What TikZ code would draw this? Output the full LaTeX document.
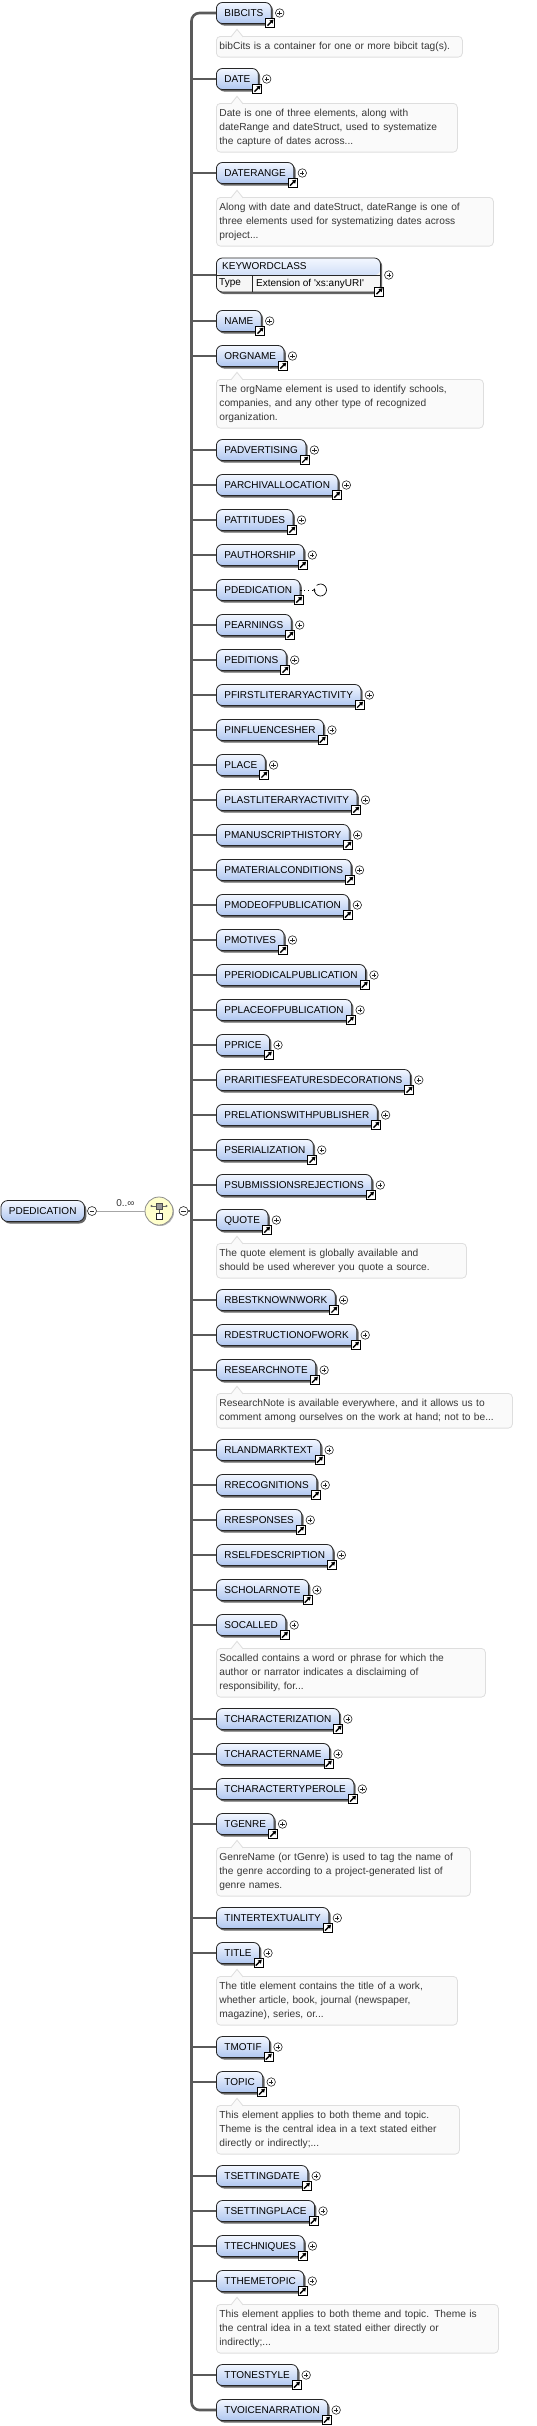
\documentclass[tikz,border=0pt]{standalone}
\usepackage{fontspec}
\setmainfont{Liberation Sans}
\usetikzlibrary{shadows,arrows.meta}

\definecolor{elemtop}{RGB}{243,247,255}
\definecolor{elembottom}{RGB}{176,199,240}
\definecolor{wire}{RGB}{90,90,90}
\definecolor{notefill}{RGB}{250,250,250}
\definecolor{noteline}{RGB}{222,222,222}
\definecolor{notetext}{RGB}{55,55,55}
\definecolor{choicefill}{RGB}{255,255,204}
\definecolor{typefill}{RGB}{246,246,246}

\tikzset{
  box/.style={draw=black!85, line width=0.8pt, rounded corners=6pt,
    top color=elemtop, bottom color=elembottom, anchor=west,
    minimum height=21pt, inner xsep=8pt, inner ysep=0pt,
    text height=7.2pt, text depth=0pt, font=\fontsize{10}{12}\selectfont,
    drop shadow={shadow xshift=1.8pt, shadow yshift=-2pt, fill=black!60, opacity=1}},
  icon/.style={draw=black, fill=white, line width=0.7pt, minimum size=9pt, inner sep=0pt,
    path picture={\draw[line width=1.4pt, -{Triangle[length=3.6pt,width=4.2pt]}]
      ([shift={(1.8pt,1.8pt)}]path picture bounding box.south west) --
      ([shift={(-1.2pt,-1.2pt)}]path picture bounding box.north east);}},
  plus/.style={circle, draw=black!85, fill=white, line width=0.6pt, minimum size=8.5pt, inner sep=0pt,
    path picture={\draw[line width=0.6pt]
      ([xshift=-2.2pt]path picture bounding box.center) -- ([xshift=2.2pt]path picture bounding box.center)
      ([yshift=-2.2pt]path picture bounding box.center) -- ([yshift=2.2pt]path picture bounding box.center);}},
  minus/.style={circle, draw=black!85, fill=white, line width=0.6pt, minimum size=9pt, inner sep=0pt,
    path picture={\draw[line width=0.6pt]
      ([xshift=-2.4pt]path picture bounding box.center) -- ([xshift=2.4pt]path picture bounding box.center);}},
  globalref/.style={append after command={\pgfextra{\xdef\lastelem{\tikzlastnode}}
    node[icon] at ([xshift=-1.5pt,yshift=1pt]\lastelem.south east) {}}},
  collapsed/.style={append after command={node[plus] at ([xshift=8pt]\lastelem.east) {}}},
  element/.style={box, globalref},
  folded/.style={box, globalref, collapsed},
  root/.style={box, rounded corners=7pt, minimum width=82pt},
  typebox/.style={draw=black!85, line width=0.8pt, rounded corners=6pt, fill=typefill,
    anchor=west, minimum width=164pt, minimum height=34pt, inner sep=0pt,
    drop shadow={shadow xshift=1.8pt, shadow yshift=-2pt, fill=black!60, opacity=1},
    path picture={\shade[top color=elemtop, bottom color=elembottom]
      (path picture bounding box.north west) rectangle ([yshift=-17pt]path picture bounding box.north east);},
    globalref, collapsed},
  boxtext/.style={anchor=west, inner sep=0pt, font=\fontsize{10}{12}\selectfont},
  note/.style={draw=noteline, fill=notefill, line width=0.8pt, rounded corners=4pt,
    anchor=north west, text width=#1pt, inner xsep=3pt, inner ysep=3pt, align=left,
    text=notetext, font=\fontsize{10.2}{14}\selectfont,
    execute at begin node={\rule{0pt}{10.5pt}}, execute at end node={\strut}},
  notch/.style={fill=notefill, draw=noteline, line width=0.8pt},
  stub/.style={color=wire, line width=2pt},
  link/.style={color=black!35, line width=0.7pt},
  choice/.style={circle, draw=black!45, fill=choicefill, line width=0.8pt, minimum size=28pt,
    drop shadow={shadow xshift=1pt, shadow yshift=-1pt, fill=black!30, opacity=1}},
  recursion/.style={circle, minimum size=13pt, inner sep=0pt}
}

\begin{document}
\begin{tikzpicture}[x=1pt,y=-1pt]
  \useasboundingbox (0,0) rectangle (536,2426);
  \coordinate (bar) at (191.5,0);
  \draw
    (0.5,1211) node[root] (pdedicationroot){PDEDICATION}
    (92,1211) node[minus] (rootminus){}
    (159,1211) node[choice] (choice){}
    (183.5,1211) node[minus] (choiceminus){};
  \draw[link] (rootminus) -- node[pos=0.6, above=1pt, font=\fontsize{10}{12}\selectfont, text=black!80] (occurrence){0..∞} (choice);
  \draw[black!60, line width=0.8pt] (151.5,1206) -- (166.5,1206) (159,1206) -- (159,1213);
  \fill[black!60] (151.5,1206) circle (1.1pt) (166.5,1206) circle (1.1pt);
  \draw[black!70, fill=black!40, line width=0.7pt] (156,1203) rectangle (162,1209);
  \draw[black!85, fill=white, line width=0.7pt] (156,1213) rectangle (162,1219);
  \draw
    (216,13) node[folded] (bibcits){BIBCITS}
    (216,36) node[note=240] (bibcitsdoc){bibCits is a container for one or more bibcit tag(s).}
    (216,79) node[folded] (date){DATE}
    (216,103) node[note=235] (datedoc){Date is one of three elements, along with\\dateRange and dateStruct, used to systematize\\the capture of dates across...}
    (216,173) node[folded] (daterange){DATERANGE}
    (216,197) node[note=271] (daterangedoc){Along with date and dateStruct, dateRange is one of\\three elements used for systematizing dates across\\project...}
    (216,275) node[typebox] (keywordclass){}
    (222,266.5) node[boxtext] (keywordname){KEYWORDCLASS}
    (219,283.5) node[boxtext] (keywordtypelabel){Type}
    (256,283.5) node[boxtext] (keywordtype){Extension of \textquotesingle xs:anyURI\textquotesingle}
    (216,321) node[folded] (name){NAME}
    (216,356) node[folded] (orgname){ORGNAME}
    (216,379) node[note=261] (orgnamedoc){The orgName element is used to identify schools,\\companies, and any other type of recognized\\organization.}
    (216,450) node[folded] (padvertising){PADVERTISING}
    (216,485) node[folded] (parchivallocation){PARCHIVALLOCATION}
    (216,520) node[folded] (pattitudes){PATTITUDES}
    (216,555) node[folded] (pauthorship){PAUTHORSHIP}
    (216,590) node[element] (pdedication){PDEDICATION}
    (216,625) node[folded] (pearnings){PEARNINGS}
    (216,660) node[folded] (peditions){PEDITIONS}
    (216,695) node[folded] (pfirstliteraryactivity){PFIRSTLITERARYACTIVITY}
    (216,730) node[folded] (pinfluencesher){PINFLUENCESHER}
    (216,765) node[folded] (place){PLACE}
    (216,800) node[folded] (plastliteraryactivity){PLASTLITERARYACTIVITY}
    (216,835) node[folded] (pmanuscripthistory){PMANUSCRIPTHISTORY}
    (216,870) node[folded] (pmaterialconditions){PMATERIALCONDITIONS}
    (216,905) node[folded] (pmodeofpublication){PMODEOFPUBLICATION}
    (216,940) node[folded] (pmotives){PMOTIVES}
    (216,975) node[folded] (pperiodicalpublication){PPERIODICALPUBLICATION}
    (216,1010) node[folded] (pplaceofpublication){PPLACEOFPUBLICATION}
    (216,1045) node[folded] (pprice){PPRICE}
    (216,1080) node[folded] (praritiesfeaturesdecorations){PRARITIESFEATURESDECORATIONS}
    (216,1115) node[folded] (prelationswithpublisher){PRELATIONSWITHPUBLISHER}
    (216,1150) node[folded] (pserialization){PSERIALIZATION}
    (216,1185) node[folded] (psubmissionsrejections){PSUBMISSIONSREJECTIONS}
    (216,1220) node[folded] (quote){QUOTE}
    (216,1243) node[note=244] (quotedoc){The quote element is globally available and\\should be used wherever you quote a source.}
    (216,1300) node[folded] (rbestknownwork){RBESTKNOWNWORK}
    (216,1335) node[folded] (rdestructionofwork){RDESTRUCTIONOFWORK}
    (216,1370) node[folded] (researchnote){RESEARCHNOTE}
    (216,1393) node[note=290] (researchnotedoc){ResearchNote is available everywhere, and it allows us to\\comment among ourselves on the work at hand; not to be...}
    (216,1450) node[folded] (rlandmarktext){RLANDMARKTEXT}
    (216,1485) node[folded] (rrecognitions){RRECOGNITIONS}
    (216,1520) node[folded] (rresponses){RRESPONSES}
    (216,1555) node[folded] (rselfdescription){RSELFDESCRIPTION}
    (216,1590) node[folded] (scholarnote){SCHOLARNOTE}
    (216,1625) node[folded] (socalled){SOCALLED}
    (216,1648) node[note=263] (socalleddoc){Socalled contains a word or phrase for which the\\author or narrator indicates a disclaiming of\\responsibility, for...}
    (216,1719) node[folded] (tcharacterization){TCHARACTERIZATION}
    (216,1754) node[folded] (tcharactername){TCHARACTERNAME}
    (216,1789) node[folded] (tcharactertyperole){TCHARACTERTYPEROLE}
    (216,1824) node[folded] (tgenre){TGENRE}
    (216,1847) node[note=248] (tgenredoc){GenreName (or tGenre) is used to tag the name of\\the genre according to a project-generated list of\\genre names.}
    (216,1918) node[folded] (tintertextuality){TINTERTEXTUALITY}
    (216,1953) node[folded] (title){TITLE}
    (216,1976) node[note=235] (titledoc){The title element contains the title of a work,\\whether article, book, journal (newspaper,\\magazine), series, or...}
    (216,2047) node[folded] (tmotif){TMOTIF}
    (216,2082) node[folded] (topic){TOPIC}
    (216,2105) node[note=237] (topicdoc){This element applies to both theme and topic.\\Theme is the central idea in a text stated either\\directly or indirectly;...}
    (216,2176) node[folded] (tsettingdate){TSETTINGDATE}
    (216,2211) node[folded] (tsettingplace){TSETTINGPLACE}
    (216,2246) node[folded] (ttechniques){TTECHNIQUES}
    (216,2281) node[folded] (tthemetopic){TTHEMETOPIC}
    (216,2304) node[note=276] (tthemetopicdoc){This element applies to both theme and topic. Theme is\\the central idea in a text stated either directly or\\indirectly;...}
    (216,2375) node[folded] (ttonestyle){TTONESTYLE}
    (216,2410) node[folded] (tvoicenarration){TVOICENARRATION};
  \draw[black!85, line width=0.8pt] (216,275) -- (380,275) (252,275) -- (252,292);
  \node[recursion] (pdedicationref) at (320.5,590) {};
  \draw[dash pattern=on 1.2pt off 2.6pt, line width=1pt] (pdedication) -- (pdedicationref);
  \draw[line width=0.7pt, -{Stealth[length=2.6pt,width=2.8pt]}] ([shift={(130:6pt)}]pdedicationref.center) arc[start angle=130, end angle=-195, radius=6pt];
  \begin{scope}[notch]
    \filldraw ([xshift=15pt,yshift=-0.8pt]bibcitsdoc.north west) -- ++(6,-7.5) -- ++(6,7.5);
    \filldraw ([xshift=15pt,yshift=-0.8pt]datedoc.north west) -- ++(6,-7.5) -- ++(6,7.5);
    \filldraw ([xshift=15pt,yshift=-0.8pt]daterangedoc.north west) -- ++(6,-7.5) -- ++(6,7.5);
    \filldraw ([xshift=15pt,yshift=-0.8pt]orgnamedoc.north west) -- ++(6,-7.5) -- ++(6,7.5);
    \filldraw ([xshift=15pt,yshift=-0.8pt]quotedoc.north west) -- ++(6,-7.5) -- ++(6,7.5);
    \filldraw ([xshift=15pt,yshift=-0.8pt]researchnotedoc.north west) -- ++(6,-7.5) -- ++(6,7.5);
    \filldraw ([xshift=15pt,yshift=-0.8pt]socalleddoc.north west) -- ++(6,-7.5) -- ++(6,7.5);
    \filldraw ([xshift=15pt,yshift=-0.8pt]tgenredoc.north west) -- ++(6,-7.5) -- ++(6,7.5);
    \filldraw ([xshift=15pt,yshift=-0.8pt]titledoc.north west) -- ++(6,-7.5) -- ++(6,7.5);
    \filldraw ([xshift=15pt,yshift=-0.8pt]topicdoc.north west) -- ++(6,-7.5) -- ++(6,7.5);
    \filldraw ([xshift=15pt,yshift=-0.8pt]tthemetopicdoc.north west) -- ++(6,-7.5) -- ++(6,7.5);
  \end{scope}
  \begin{scope}[stub]
    \draw[line width=2.6pt, rounded corners=8pt] (bibcits) -| (bar |- tvoicenarration) -- (tvoicenarration);
    \draw (choiceminus) to (bar |- choiceminus);
    \draw (bar |- date) to (date);
    \draw (bar |- daterange) to (daterange);
    \draw (bar |- keywordclass) to (keywordclass);
    \draw (bar |- name) to (name);
    \draw (bar |- orgname) to (orgname);
    \draw (bar |- padvertising) to (padvertising);
    \draw (bar |- parchivallocation) to (parchivallocation);
    \draw (bar |- pattitudes) to (pattitudes);
    \draw (bar |- pauthorship) to (pauthorship);
    \draw (bar |- pdedication) to (pdedication);
    \draw (bar |- pearnings) to (pearnings);
    \draw (bar |- peditions) to (peditions);
    \draw (bar |- pfirstliteraryactivity) to (pfirstliteraryactivity);
    \draw (bar |- pinfluencesher) to (pinfluencesher);
    \draw (bar |- place) to (place);
    \draw (bar |- plastliteraryactivity) to (plastliteraryactivity);
    \draw (bar |- pmanuscripthistory) to (pmanuscripthistory);
    \draw (bar |- pmaterialconditions) to (pmaterialconditions);
    \draw (bar |- pmodeofpublication) to (pmodeofpublication);
    \draw (bar |- pmotives) to (pmotives);
    \draw (bar |- pperiodicalpublication) to (pperiodicalpublication);
    \draw (bar |- pplaceofpublication) to (pplaceofpublication);
    \draw (bar |- pprice) to (pprice);
    \draw (bar |- praritiesfeaturesdecorations) to (praritiesfeaturesdecorations);
    \draw (bar |- prelationswithpublisher) to (prelationswithpublisher);
    \draw (bar |- pserialization) to (pserialization);
    \draw (bar |- psubmissionsrejections) to (psubmissionsrejections);
    \draw (bar |- quote) to (quote);
    \draw (bar |- rbestknownwork) to (rbestknownwork);
    \draw (bar |- rdestructionofwork) to (rdestructionofwork);
    \draw (bar |- researchnote) to (researchnote);
    \draw (bar |- rlandmarktext) to (rlandmarktext);
    \draw (bar |- rrecognitions) to (rrecognitions);
    \draw (bar |- rresponses) to (rresponses);
    \draw (bar |- rselfdescription) to (rselfdescription);
    \draw (bar |- scholarnote) to (scholarnote);
    \draw (bar |- socalled) to (socalled);
    \draw (bar |- tcharacterization) to (tcharacterization);
    \draw (bar |- tcharactername) to (tcharactername);
    \draw (bar |- tcharactertyperole) to (tcharactertyperole);
    \draw (bar |- tgenre) to (tgenre);
    \draw (bar |- tintertextuality) to (tintertextuality);
    \draw (bar |- title) to (title);
    \draw (bar |- tmotif) to (tmotif);
    \draw (bar |- topic) to (topic);
    \draw (bar |- tsettingdate) to (tsettingdate);
    \draw (bar |- tsettingplace) to (tsettingplace);
    \draw (bar |- ttechniques) to (ttechniques);
    \draw (bar |- tthemetopic) to (tthemetopic);
    \draw (bar |- ttonestyle) to (ttonestyle);
  \end{scope}
\end{tikzpicture}
\end{document}
